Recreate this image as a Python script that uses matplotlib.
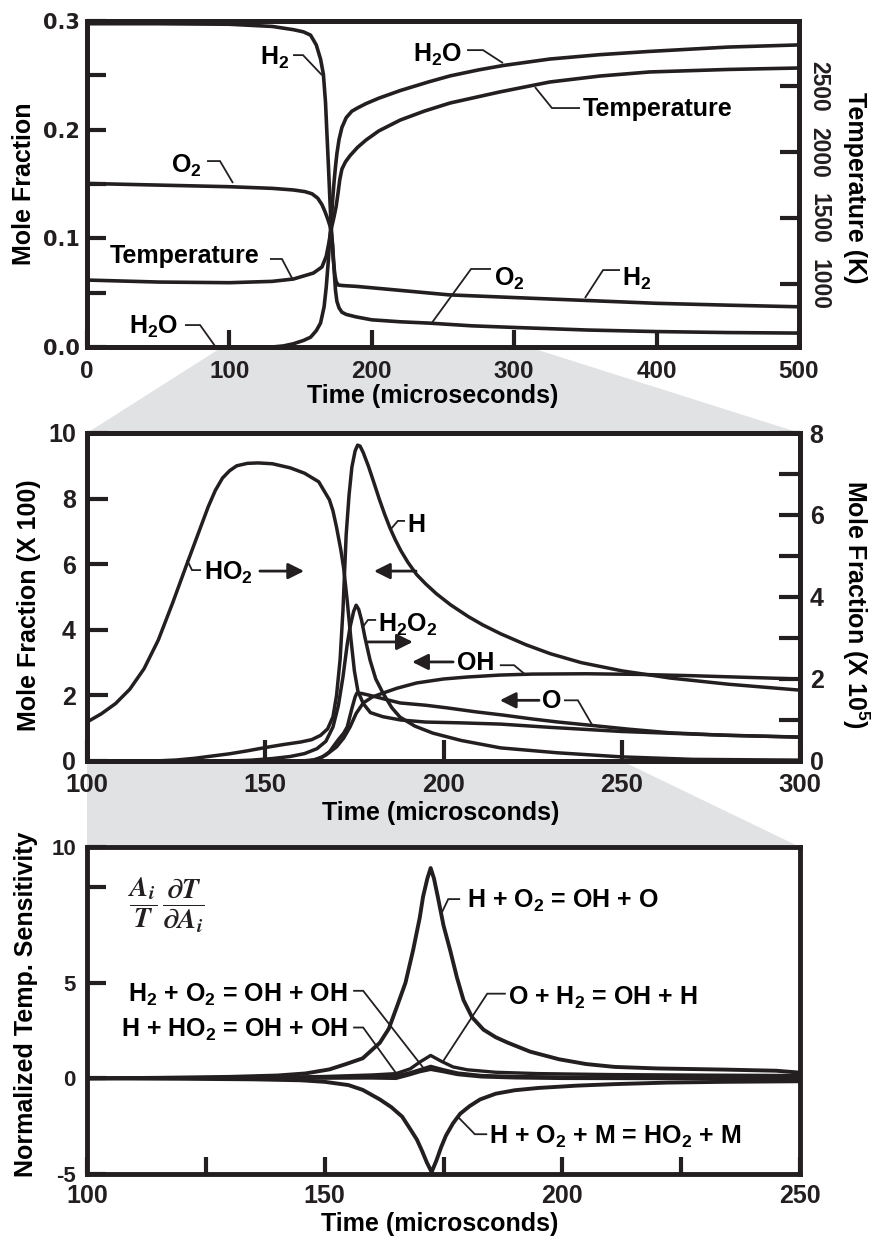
import matplotlib
matplotlib.use('Agg')
import matplotlib.pyplot as plt
from matplotlib import font_manager as fm
from matplotlib.patches import Polygon

# ---------------- data ----------------
# Top panel: mole fractions (left) and temperature (right) vs time (0-500 us)
t_h2 = [0, 50, 100, 130, 145, 152, 157, 161, 164, 166, 167.5, 168.5, 169.5, 170.5, 171.2, 172, 173, 174, 175, 176.5, 180, 189,
        200, 225, 254, 300, 351, 400, 450, 500]
h2 = [0.2975, 0.2975, 0.297, 0.295, 0.292, 0.290, 0.287, 0.278, 0.265, 0.251, 0.225, 0.196, 0.168, 0.138, 0.118, 0.100, 0.080,
      0.067, 0.060, 0.057, 0.0565, 0.0558, 0.0545, 0.0515, 0.048, 0.0455, 0.0428, 0.0402, 0.0385, 0.037]

t_o2 = [0, 50, 100, 130, 145, 153, 158, 162, 165, 167, 169, 170.5, 171.5, 172.5, 173.5, 174.5, 175.5, 177, 179, 182, 189,
        200, 220, 240, 270, 300, 352, 400, 450, 500]
o2 = [0.1505, 0.149, 0.1475, 0.146, 0.1445, 0.143, 0.141, 0.137, 0.131, 0.125, 0.118, 0.112, 0.106, 0.094, 0.072, 0.052,
      0.042, 0.036, 0.032, 0.030, 0.0277, 0.025, 0.0232, 0.022, 0.0195, 0.018, 0.0156, 0.0142, 0.0133, 0.0128]

t_h2o = [0, 130, 138, 145, 152, 157, 161, 164, 166.5, 168, 169.5, 170.5, 171.5, 172.5, 173.5, 174.5, 175.5, 177, 179, 182,
         186, 190, 196, 205, 220, 240, 255, 275, 292, 325, 360, 395, 450, 500]
h2o = [0, 0, 0.001, 0.003, 0.006, 0.009, 0.015, 0.022, 0.037, 0.055, 0.080, 0.100, 0.115, 0.135, 0.152, 0.166, 0.178, 0.191,
       0.202, 0.211, 0.217, 0.220, 0.224, 0.229, 0.236, 0.244, 0.2495, 0.255, 0.259, 0.265, 0.269, 0.272, 0.276, 0.278]

t_temp = [0, 50, 100, 130, 145, 159, 165, 168, 170, 171.2, 172, 173.5, 175, 176.3, 177.5, 179, 181.5, 184.7, 190, 196, 205,
          220, 237, 255, 290, 325, 360, 395, 450, 500]
temp = [1030, 1015, 1010, 1020, 1038, 1083, 1129, 1210, 1320, 1400, 1440, 1510, 1590, 1690, 1790, 1870, 1925, 1972, 2035,
        2091, 2160, 2242, 2310, 2371, 2455, 2530, 2575, 2606, 2625, 2636]

# Middle panel: radicals (100-300 us); H, OH, O on left (x100), HO2, H2O2 on right (x10^5)
t_h = [100, 119, 125, 130, 135, 140, 145, 150, 155, 160, 163, 165.5, 167.5, 169, 170, 171, 171.8, 172.7, 173.5, 174.3, 175.2,
       175.9, 176.6, 177.5, 179, 180.5, 182, 183.5, 185, 186.5, 188, 190, 192.5, 195, 198, 202, 207, 211, 216, 223, 230,
       238.6, 250, 263.5, 280, 300]
h = [0, 0, 0.03, 0.08, 0.15, 0.22, 0.31, 0.41, 0.50, 0.58, 0.65, 0.78, 0.98, 1.35, 2.0, 3.1, 4.6, 6.9, 8.1, 8.96, 9.45,
     9.63, 9.6, 9.4, 8.97, 8.48, 7.98, 7.52, 7.1, 6.74, 6.42, 6.06, 5.68, 5.4, 5.1, 4.76, 4.4, 4.15, 3.88, 3.55, 3.27,
     3.0, 2.75, 2.53, 2.34, 2.16]

t_ho2 = [100, 104, 108, 112, 116, 120, 124, 128, 131, 134, 136, 138, 140, 142, 145, 148, 152, 157, 161, 165, 168, 169, 170,
         171.2, 172, 173, 174, 175, 176, 177.5, 179.5, 183, 188, 195, 205, 216, 230, 250, 275, 300]
ho2 = [0.95, 1.15, 1.4, 1.75, 2.25, 2.95, 3.85, 4.8, 5.5, 6.2, 6.6, 6.9, 7.08, 7.2, 7.26, 7.27, 7.25, 7.15, 7.02, 6.81,
       6.37, 6.1, 5.7, 5.15, 4.7, 3.9, 3.0, 2.2, 1.7, 1.4, 1.18, 1.08, 1.0, 0.95, 0.93, 0.9, 0.82, 0.72, 0.64, 0.58]

t_h2o2 = [100, 140, 146, 152, 157, 161, 164.5, 167, 169, 170.5, 171.8, 173, 173.8, 174.8, 175.5, 176.2, 177, 178, 179.4,
          181, 183, 185.5, 187.8, 192, 197, 205, 216, 232, 250, 270, 300]
h2o2 = [0, 0, 0.02, 0.06, 0.11, 0.18, 0.30, 0.48, 0.83, 1.35, 2.05, 2.85, 3.27, 3.65, 3.8, 3.7, 3.44, 3.0, 2.46, 2.0, 1.66,
        1.3, 1.07, 0.85, 0.68, 0.5, 0.32, 0.2, 0.1, 0.04, 0.02]

t_o = [100, 160, 163.5, 166, 168, 169, 170.5, 172, 173, 174.3, 175.2, 175.7, 177, 179.4, 183, 187.8, 195, 201, 209, 216.7,
       225, 232, 242, 252, 263.5, 280, 300]
o = [0, 0, 0.03, 0.12, 0.28, 0.43, 0.65, 0.85, 1.04, 1.6, 1.95, 2.07, 2.06, 2.0, 1.9, 1.77, 1.7, 1.62, 1.5, 1.4, 1.28, 1.19,
     1.08, 0.97, 0.86, 0.78, 0.73]

t_oh = [100, 162, 164.5, 167, 170, 172, 173.8, 175.5, 177.5, 180, 183, 187, 192.5, 200, 206.6, 215.8, 225, 240, 255, 270,
        285, 300]
oh = [0, 0, 0.05, 0.18, 0.43, 0.7, 1.04, 1.45, 1.77, 1.95, 2.07, 2.22, 2.38, 2.5, 2.56, 2.62, 2.65, 2.66, 2.64, 2.6, 2.55, 2.5]

# Bottom panel: normalized temperature sensitivities (100-250 us)
t_s1 = [100, 115, 130, 140, 146, 151, 154.5, 158, 161.6, 163.5, 165.2, 167, 168.6, 170, 170.7, 171.6, 172.3, 173, 173.8, 175,
        176.4, 177.8, 179.2, 181, 183.4, 186, 188.4, 193.2, 199.3, 205, 211, 220, 234, 245, 250]
s1 = [0, 0.03, 0.08, 0.15, 0.26, 0.47, 0.75, 1.05, 1.86, 2.6, 3.75, 5.0, 6.7, 8.4, 9.5, 10.45, 11.0, 10.45, 9.5, 8.0, 6.7, 5.3,
      4.1, 3.2, 2.55, 2.15, 1.88, 1.4, 1.0, 0.75, 0.6, 0.52, 0.46, 0.4, 0.3]

t_s2 = [100, 120, 135, 145, 150, 155, 158, 161.6, 164, 166.3, 168, 169.4, 170.5, 171.5, 172.5, 173.5, 174.5, 175.5, 177,
        178.5, 180.5, 182.7, 186, 190, 195, 203, 211, 222, 234, 250]
s2 = [0, -0.02, -0.05, -0.1, -0.18, -0.35, -0.6, -1.1, -1.5, -2.0, -2.65, -3.2, -3.8, -4.4, -4.9, -4.3, -3.6, -3.0, -2.35,
      -1.85, -1.45, -1.1, -0.8, -0.62, -0.5, -0.38, -0.3, -0.22, -0.18, -0.15]

t_s3 = [100, 130, 150, 160, 165, 168, 170, 172.3, 174.5, 177, 180, 186, 195, 210, 230, 250]
s3 = [0, 0.03, 0.1, 0.18, 0.25, 0.5, 0.85, 1.2, 0.9, 0.6, 0.45, 0.32, 0.25, 0.2, 0.17, 0.15]

t_s4 = [100, 150, 160, 165, 168, 170, 172.3, 175, 178, 183, 190, 200, 220, 250]
s4 = [0, 0.03, 0.06, 0.12, 0.3, 0.45, 0.63, 0.45, 0.28, 0.15, 0.1, 0.07, 0.04, 0.02]

t_s5 = [100, 150, 160, 165, 168, 170, 172.3, 175, 178, 183, 190, 200, 250]
s5 = [0, 0.02, 0.02, 0.0, 0.2, 0.35, 0.47, 0.35, 0.2, 0.08, 0.03, 0.0, -0.02]

# ---------------- style ----------------
names = {f.name for f in fm.fontManager.ttflist}
NARROW = 'Liberation Sans Narrow' if 'Liberation Sans Narrow' in names else 'Liberation Sans'

plt.rcParams.update({
    'font.family': ['Liberation Sans', 'DejaVu Sans'],
    'font.weight': 'bold',
    'axes.labelweight': 'bold',
    'mathtext.fontset': 'custom',
    'mathtext.rm': 'Liberation Sans:bold',
    'mathtext.it': 'Liberation Sans:bold:italic',
    'mathtext.bf': 'Liberation Sans:bold',
    'mathtext.default': 'rm',
})

K = '#231f20'
GRAY = '#e1e2e4'
FS = 18

W, H = 871, 1239
fig = plt.figure(figsize=(W / 100, H / 100), dpi=100)


def rect(l, t, r, b):
    return [l / W, 1 - b / H, (r - l) / W, (b - t) / H]


ax1 = fig.add_axes(rect(87, 21, 799, 347))
ax1r = ax1.twinx()
ax2 = fig.add_axes(rect(87, 433, 800, 761))
ax2r = ax2.twinx()
ax3 = fig.add_axes(rect(87, 847, 800, 1174))

for a in (ax1, ax1r, ax2, ax2r, ax3):
    for s in a.spines.values():
        s.set_linewidth(3.5)
        s.set_color(K)
    a.tick_params(direction='in', width=3, color=K, labelcolor=K)

LW = 2.6


def leader(ax, pts):
    ax.plot([p[0] for p in pts], [p[1] for p in pts], color=K, lw=1.3, clip_on=False,
            solid_joinstyle='miter', solid_capstyle='butt')


def arrow(ax, tail, head):
    ax.annotate('', xy=head, xytext=tail,
                arrowprops=dict(arrowstyle='-|>,head_length=0.8,head_width=0.4', lw=2.0, color=K,
                                shrinkA=0, shrinkB=0, mutation_scale=12))


# ---------------- top panel ----------------
ax1.plot(t_h2, h2, color=K, lw=LW)
ax1.plot(t_o2, o2, color=K, lw=LW)
ax1.plot(t_h2o, h2o, color=K, lw=LW)
ax1r.plot(t_temp, temp, color=K, lw=LW)
ax1.set_xlim(0, 500)
ax1.set_ylim(0, 0.3)
ax1r.set_ylim(523, 2992)
ax1.set_xticks([0, 100, 200, 300, 400, 500])
ax1.set_yticks([0, 0.05, 0.1, 0.15, 0.2, 0.25, 0.3], labels=['0.0', '', '0.1', '', '0.2', '', '0.3'])
ax1.tick_params(axis='y', length=14, pad=5, labelsize=15, labelfontfamily='DejaVu Sans')
ax1.tick_params(axis='x', length=12, pad=9, labelsize=17.5, labelfontfamily=NARROW)
ax1r.set_yticks([1000, 1500, 2000, 2500])
ax1r.tick_params(axis='y', length=14, pad=6, labelsize=16.5, labelfontfamily=NARROW, labelrotation=-90)
plt.setp(ax1r.get_yticklabels(), va='center', ha='left', fontweight='bold')
ax1.set_xlabel('Time (microseconds)', fontsize=FS, va='center')
ax1.xaxis.set_label_coords(0.486, -0.150)
ax1.set_ylabel('Mole Fraction', fontsize=FS, va='center', ha='center')
ax1.yaxis.set_label_coords(-0.0885, 0.5)
ax1r.set_ylabel('Temperature (K)', fontsize=FS, rotation=-90, va='center', ha='center')
ax1r.yaxis.set_label_coords(1.0787, 0.489)

ax1.text(141.9, 0.2594, r'H$_2$', ha='right', va='baseline', fontsize=FS)
leader(ax1, [(144.7, 0.2686), (151.7, 0.2686), (165.0, 0.2502)])
ax1.text(263.3, 0.2622, r'H$_2$O', ha='right', va='baseline', fontsize=FS)
leader(ax1, [(266.9, 0.2732), (278.1, 0.2732), (292.1, 0.2613)])
ax1.text(348.3, 0.2125, 'Temperature', ha='left', va='baseline', fontsize=FS)
leader(ax1, [(314.6, 0.2392), (326.5, 0.2199), (346.2, 0.2199)])
ax1.text(80.8, 0.160, r'O$_2$', ha='right', va='baseline', fontsize=FS)
leader(ax1, [(84.3, 0.1711), (93.4, 0.1711), (102.5, 0.1509)])
ax1.text(16.2, 0.0773, 'Temperature', ha='left', va='baseline', fontsize=FS)
leader(ax1, [(128.5, 0.081), (136.9, 0.081), (144.7, 0.0616)])
ax1.text(63.9, 0.012, r'H$_2$O', ha='right', va='baseline', fontsize=FS)
leader(ax1, [(68.8, 0.0202), (79.4, 0.0202), (89.9, 0.0009)])
ax1.text(285.8, 0.0561, r'O$_2$', ha='left', va='baseline', fontsize=FS)
leader(ax1, [(241.6, 0.0212), (269.7, 0.0718), (283.7, 0.0718)])
ax1.text(375.7, 0.0561, r'H$_2$', ha='left', va='baseline', fontsize=FS)
leader(ax1, [(349.7, 0.0451), (362.4, 0.0708), (374.3, 0.0708)])

# ---------------- middle panel ----------------
LW2 = 2.5
ax2.plot(t_h, h, color=K, lw=LW2)
ax2.plot(t_o, o, color=K, lw=LW2)
ax2.plot(t_oh, oh, color=K, lw=LW2)
ax2r.plot(t_ho2, ho2, color=K, lw=LW2)
ax2r.plot(t_h2o2, h2o2, color=K, lw=LW2)
ax2.set_xlim(100, 300)
ax2.set_ylim(0, 10)
ax2r.set_ylim(0, 8)
ax2.set_xticks([100, 150, 200, 250, 300])
ax2.set_yticks([0, 2, 4, 6, 8, 10])
ax2r.set_yticks(range(9), labels=['0', '', '2', '', '4', '', '6', '', '8'])
ax2.tick_params(axis='y', length=15, pad=8, labelsize=18)
ax2.tick_params(axis='x', length=15, pad=9, labelsize=18.5, labelfontfamily=NARROW)
ax2r.tick_params(axis='y', length=15, pad=7, labelsize=18)
ax2.set_xlabel('Time (microsconds)', fontsize=FS, va='center')
ax2.xaxis.set_label_coords(0.4965, -0.160)
ax2.set_ylabel('Mole Fraction (X 100)', fontsize=FS, va='center', ha='center')
ax2.yaxis.set_label_coords(-0.0815, 0.476)
ax2r.set_ylabel(r'Mole Fraction (X 10$^5$)', fontsize=FS, rotation=-90, va='center', ha='center')
ax2r.yaxis.set_label_coords(1.0775, 0.476)

ax2.text(132.8, 5.52, r'HO$_2$', ha='left', va='baseline', fontsize=FS)
leader(ax2, [(128.05, 6.13), (129.45, 5.82), (132.0, 5.82)])
arrow(ax2, (148.5, 5.79), (160.9, 5.79))
ax2.text(189.8, 6.98, 'H', ha='left', va='baseline', fontsize=FS)
leader(ax2, [(185.3, 7.08), (187.2, 7.32), (189.2, 7.32)])
arrow(ax2, (192.3, 5.79), (180.5, 5.79))
ax2.text(181.6, 3.93, r'H$_2$O$_2$', ha='left', va='baseline', fontsize=FS)
leader(ax2, [(177.4, 4.09), (178.8, 4.30), (181.1, 4.30)])
arrow(ax2, (178.8, 3.63), (191.4, 3.63))
arrow(ax2, (202.7, 3.02), (191.2, 3.02))
ax2.text(203.8, 2.77, 'OH', ha='left', va='baseline', fontsize=FS)
leader(ax2, [(215.8, 2.92), (219.8, 2.92), (222.9, 2.64)])
arrow(ax2, (226.8, 1.85), (215.8, 1.85))
ax2.text(227.6, 1.62, 'O', ha='left', va='baseline', fontsize=FS)
leader(ax2, [(233.8, 1.85), (237.7, 1.85), (241.7, 1.10)])

# ---------------- bottom panel ----------------
YTOP = 12.1
ax3.plot(t_s1, s1, color=K, lw=2.8)
ax3.plot(t_s2, s2, color=K, lw=2.8)
ax3.plot(t_s3, s3, color=K, lw=2.4)
ax3.plot(t_s4, s4, color=K, lw=2.4)
ax3.plot(t_s5, s5, color=K, lw=2.4)
ax3.set_xlim(100, 250)
ax3.set_ylim(-5, YTOP)
ax3.set_xticks([100, 125, 150, 175, 200, 225, 250], labels=['100', '', '150', '', '200', '', '250'])
ax3.set_yticks([-5, 0, 5, 10, YTOP], labels=['-5', '0', '5', '', '10'])
ax3.tick_params(axis='y', length=14, pad=8, labelsize=16)
ax3.tick_params(axis='x', length=12, pad=7, labelsize=18)
ax3.set_xlabel('Time (microsconds)', fontsize=FS, va='center')
ax3.xaxis.set_label_coords(0.495, -0.153)
ax3.set_ylabel('Normalized Temp. Sensitivity', fontsize=FS, va='center', ha='center')
ax3.yaxis.set_label_coords(-0.085, 0.518)

ax3.text(116.8, 9.05,
         r'$\dfrac{\mathit{A}_{\mathit{i}}}{\mathit{T}}\,\dfrac{\partial \mathit{T}}{\partial \mathit{A}_{\mathit{i}}}$',
         math_fontfamily='stix', fontsize=20, fontweight='normal', ha='center', va='center', color=K)
ax3.text(179.9, 8.91, r'H + O$_2$ = OH + O', ha='left', va='baseline', fontsize=FS)
leader(ax3, [(174.7, 8.70), (176.0, 9.375), (178.5, 9.375)])
ax3.text(154.9, 4.01, r'H$_2$ + O$_2$ = OH + OH', ha='right', va='baseline', fontsize=FS)
leader(ax3, [(156.0, 4.58), (158.1, 4.58), (170.7, 0.57)])
ax3.text(154.9, 2.19, r'H + HO$_2$ = OH + OH', ha='right', va='baseline', fontsize=FS)
leader(ax3, [(156.0, 2.66), (158.1, 2.66), (165.2, 0.21)])
ax3.text(188.6, 3.85, r'O + H$_2$ = OH + H', ha='left', va='baseline', fontsize=FS)
leader(ax3, [(174.9, 0.89), (184.2, 4.43), (188.1, 4.43)])
ax3.text(184.6, -3.44, r'H + O$_2$ + M = HO$_2$ + M', ha='left', va='baseline', fontsize=FS)
leader(ax3, [(178.1, -2.03), (181.6, -2.92), (184.2, -2.92)])

# ---------------- zoom wedges ----------------
inv = fig.transFigure.inverted()


def fpt(ax, x, y):
    return inv.transform(ax.transData.transform((x, y)))


w1 = [fpt(ax1, 95, 0), fpt(ax1, 310, 0), fpt(ax2, 300, 10), fpt(ax2, 100, 10)]
w2 = [fpt(ax2, 100, 0), fpt(ax2, 250, 0), fpt(ax3, 250, YTOP), fpt(ax3, 100, YTOP)]
for w in (w1, w2):
    fig.add_artist(Polygon(w, closed=True, transform=fig.transFigure, facecolor=GRAY,
                           edgecolor='none', zorder=-1))

fig.savefig('out.png', dpi=100)
